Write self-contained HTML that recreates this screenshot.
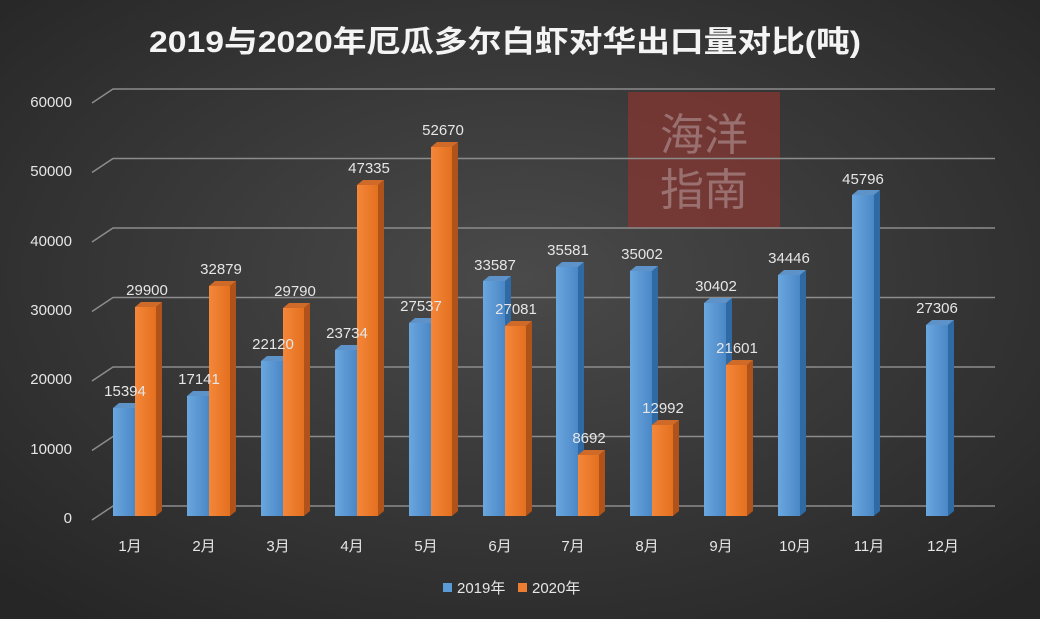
<!DOCTYPE html>
<html><head><meta charset="utf-8"><style>
html,body{margin:0;padding:0;background:#333}
svg{display:block}
text{font-family:"Liberation Sans","Noto Sans CJK SC",sans-serif;fill:#e6e6e6}
</style></head><body>
<svg width="1040" height="619" viewBox="0 0 1040 619" xmlns="http://www.w3.org/2000/svg">
<defs>
<radialGradient id="bg" cx="50%" cy="45%" r="70%">
<stop offset="0" stop-color="#4a4a4a"/><stop offset="1" stop-color="#262626"/>
</radialGradient>
<linearGradient id="bf" x1="0" x2="1"><stop offset="0" stop-color="#6aa7df"/><stop offset="1" stop-color="#4a87c6"/></linearGradient>
<linearGradient id="of" x1="0" x2="1"><stop offset="0" stop-color="#f5873a"/><stop offset="1" stop-color="#e3701f"/></linearGradient>
</defs>
<rect width="1040" height="619" fill="url(#bg)"/>
<rect x="628" y="92" width="152" height="136" fill="#8a3430" opacity="0.7"/>
<text x="704" y="150" text-anchor="middle" font-size="44" style="fill:#b8a0a0" opacity="0.55">海洋</text>
<text x="704" y="205" text-anchor="middle" font-size="44" style="fill:#b8a0a0" opacity="0.55">指南</text>
<text x="505" y="52" text-anchor="middle" font-size="30" font-weight="bold" textLength="712" lengthAdjust="spacingAndGlyphs" style="fill:#f4f4f4">2019与2020年厄瓜多尔白虾对华出口量对比(吨)</text>
<g stroke="#8c8c8c" stroke-width="1.5" fill="none">
<path d="M92 520L113 506H995"/>
<path d="M92 450.5L113 436.5H995"/>
<path d="M92 381L113 367H995"/>
<path d="M92 311.5L113 297.5H995"/>
<path d="M92 242L113 228H995"/>
<path d="M92 172.5L113 158.5H995"/>
<path d="M92 103L113 89H995"/>
</g>
<g font-size="15" text-anchor="end">
<text x="72" y="523">0</text>
<text x="72" y="454">10000</text>
<text x="72" y="384">20000</text>
<text x="72" y="315">30000</text>
<text x="72" y="246">40000</text>
<text x="72" y="176">50000</text>
<text x="72" y="107">60000</text>
</g>
<g>
<g fill="url(#bf)">
<rect x="113" y="408" width="22" height="108"/><rect x="187" y="396" width="22" height="120"/><rect x="261" y="361" width="22" height="155"/><rect x="335" y="350" width="22" height="166"/><rect x="409" y="323" width="22" height="193"/><rect x="483" y="281" width="22" height="235"/><rect x="556" y="267" width="22" height="249"/><rect x="630" y="271" width="22" height="245"/><rect x="704" y="303" width="22" height="213"/><rect x="778" y="275" width="22" height="241"/><rect x="852" y="195" width="22" height="321"/><rect x="926" y="325" width="22" height="191"/>
</g>
<g fill="#2f6aa5">
<polygon points="135,408 141,403 141,511 135,516"/><polygon points="209,396 215,391 215,511 209,516"/><polygon points="283,361 289,356 289,511 283,516"/><polygon points="357,350 363,345 363,511 357,516"/><polygon points="431,323 437,318 437,511 431,516"/><polygon points="505,281 511,276 511,511 505,516"/><polygon points="578,267 584,262 584,511 578,516"/><polygon points="652,271 658,266 658,511 652,516"/><polygon points="726,303 732,298 732,511 726,516"/><polygon points="800,275 806,270 806,511 800,516"/><polygon points="874,195 880,190 880,511 874,516"/><polygon points="948,325 954,320 954,511 948,516"/>
</g>
<g fill="#5d93c8">
<polygon points="113,408 119,403 141,403 135,408"/><polygon points="187,396 193,391 215,391 209,396"/><polygon points="261,361 267,356 289,356 283,361"/><polygon points="335,350 341,345 363,345 357,350"/><polygon points="409,323 415,318 437,318 431,323"/><polygon points="483,281 489,276 511,276 505,281"/><polygon points="556,267 562,262 584,262 578,267"/><polygon points="630,271 636,266 658,266 652,271"/><polygon points="704,303 710,298 732,298 726,303"/><polygon points="778,275 784,270 806,270 800,275"/><polygon points="852,195 858,190 880,190 874,195"/><polygon points="926,325 932,320 954,320 948,325"/>
</g>
<g fill="url(#of)">
<rect x="135" y="307" width="21" height="209"/><rect x="209" y="286" width="21" height="230"/><rect x="283" y="308" width="21" height="208"/><rect x="357" y="185" width="21" height="331"/><rect x="431" y="147" width="21" height="369"/><rect x="505" y="326" width="21" height="190"/><rect x="578" y="455" width="21" height="61"/><rect x="652" y="425" width="21" height="91"/><rect x="726" y="365" width="21" height="151"/>
</g>
<g fill="#b0531a">
<polygon points="156,307 162,302 162,511 156,516"/><polygon points="230,286 236,281 236,511 230,516"/><polygon points="304,308 310,303 310,511 304,516"/><polygon points="378,185 384,180 384,511 378,516"/><polygon points="452,147 458,142 458,511 452,516"/><polygon points="526,326 532,321 532,511 526,516"/><polygon points="599,455 605,450 605,511 599,516"/><polygon points="673,425 679,420 679,511 673,516"/><polygon points="747,365 753,360 753,511 747,516"/>
</g>
<g fill="#d06a28">
<polygon points="135,307 141,302 162,302 156,307"/><polygon points="209,286 215,281 236,281 230,286"/><polygon points="283,308 289,303 310,303 304,308"/><polygon points="357,185 363,180 384,180 378,185"/><polygon points="431,147 437,142 458,142 452,147"/><polygon points="505,326 511,321 532,321 526,326"/><polygon points="578,455 584,450 605,450 599,455"/><polygon points="652,425 658,420 679,420 673,425"/><polygon points="726,365 732,360 753,360 747,365"/>
</g>
</g>
<g font-size="15" text-anchor="middle">
<text x="125" y="396">15394</text><text x="199" y="384">17141</text><text x="273" y="349">22120</text><text x="347" y="338">23734</text><text x="421" y="311">27537</text><text x="495" y="270">33587</text><text x="568" y="255">35581</text><text x="642" y="259">35002</text><text x="716" y="291">30402</text><text x="789" y="263">34446</text><text x="863" y="184">45796</text><text x="937" y="313">27306</text>
<text x="147" y="295">29900</text><text x="221" y="274">32879</text><text x="295" y="296">29790</text><text x="369" y="173">47335</text><text x="443" y="135">52670</text><text x="516" y="314">27081</text><text x="589" y="443">8692</text><text x="663" y="413">12992</text><text x="737" y="353">21601</text>
</g>
<g font-size="15" text-anchor="middle">
<text x="130" y="551">1月</text><text x="204" y="551">2月</text><text x="278" y="551">3月</text><text x="352" y="551">4月</text><text x="426" y="551">5月</text><text x="500" y="551">6月</text><text x="573" y="551">7月</text><text x="647" y="551">8月</text><text x="721" y="551">9月</text><text x="795" y="551">10月</text><text x="869" y="551">11月</text><text x="943" y="551">12月</text>
</g>
<rect x="443" y="583" width="9" height="9" fill="#5b9bd5"/>
<text x="457" y="593" font-size="15">2019年</text>
<rect x="518" y="583" width="9" height="9" fill="#ed7d31"/>
<text x="532" y="593" font-size="15">2020年</text>
</svg>
</body></html>
